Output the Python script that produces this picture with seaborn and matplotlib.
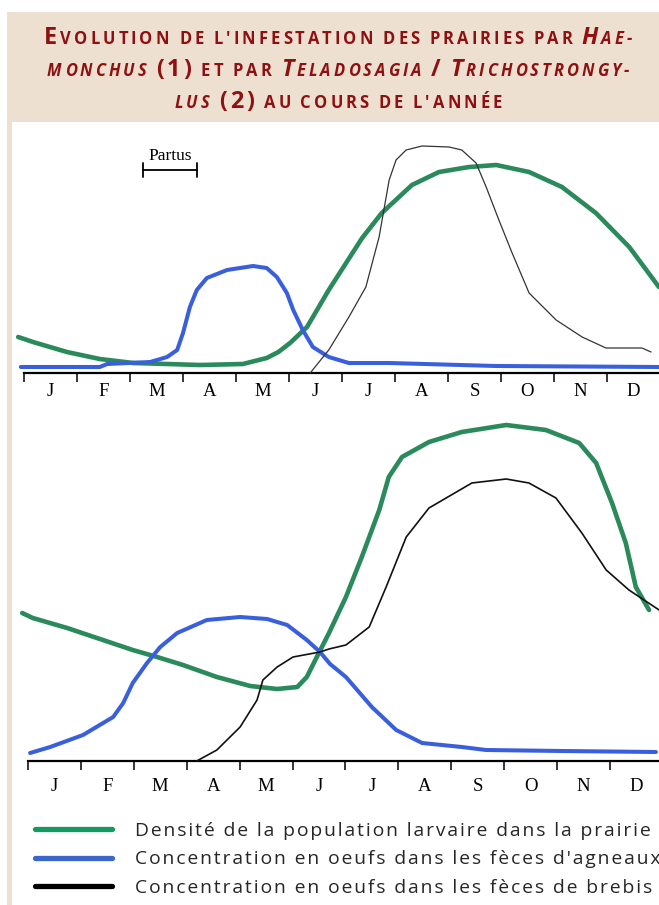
import matplotlib
matplotlib.use("Agg")
import matplotlib.pyplot as plt
import seaborn as sns
import numpy as np
import pandas as pd
from matplotlib.lines import Line2D
from matplotlib.patches import Rectangle
from matplotlib.offsetbox import TextArea, HPacker, AnchoredOffsetbox
from matplotlib.font_manager import FontProperties

# ---------------- data (months from 1 Jan = 0, arbitrary level units) ----------------
month_labels = ["J", "F", "M", "A", "M", "J", "J", "A", "S", "O", "N", "D"]

# Panel 1 : Haemonchus
p1_green_x = [-0.11, 0.17, 0.81, 1.43, 2.06, 2.70, 3.32, 4.13, 4.58, 4.80, 5.02, 5.34, 5.75,
              6.38, 6.75, 7.32, 7.83, 8.40, 8.91, 9.53, 10.15, 10.79, 11.42, 11.98]
p1_green_y = [36, 31, 21, 14, 10, 9, 8, 9, 15, 21, 30, 46, 83,
              135, 160, 188, 201, 206, 208, 201, 186, 160, 126, 86]

p1_blue_x = [-0.06, 1.43, 1.57, 2.38, 2.70, 2.89, 3.00, 3.13, 3.26, 3.45, 3.83, 4.32, 4.58,
             4.77, 4.96, 5.08, 5.26, 5.45, 5.75, 6.13, 6.89, 8.91, 11.98]
p1_blue_y = [6, 6, 9, 11, 16, 23, 40, 66, 83, 95, 103, 107, 105,
             96, 80, 63, 43, 26, 16, 10, 10, 7, 6]

p1_black_x = [5.40, 5.75, 6.13, 6.45, 6.70, 6.89, 7.02, 7.21, 7.51, 8.02, 8.26, 8.53, 8.72,
              8.96, 9.21, 9.53, 10.04, 10.53, 10.98, 11.66, 11.83]
p1_black_y = [0, 23, 56, 86, 136, 193, 213, 223, 227, 226, 223, 210, 186,
              153, 120, 80, 53, 36, 25, 25, 21]

# Panel 2 : Teladosagia / Trichostrongylus
p2_green_x = [-0.11, 0.09, 0.74, 1.36, 1.98, 2.44, 2.93, 3.57, 4.20, 4.71, 5.09, 5.27, 5.46,
              5.69, 6.01, 6.31, 6.64, 6.82, 7.07, 7.58, 8.20, 9.04, 9.79, 10.42, 10.74,
              11.04, 11.30, 11.49, 11.74]
p2_green_y = [148, 143, 133, 122, 111, 104, 96, 84, 75, 72, 74, 84, 104,
              128, 164, 204, 251, 284, 304, 319, 329, 336, 331, 318, 298,
              258, 218, 174, 151]

p2_blue_x = [0.04, 0.42, 1.04, 1.61, 1.80, 1.98, 2.25, 2.50, 2.82, 3.38, 4.01, 4.52, 4.90,
             5.27, 5.52, 5.71, 6.01, 6.50, 6.96, 7.45, 8.20, 8.66, 10.09, 11.87]
p2_blue_y = [8, 14, 26, 44, 58, 78, 98, 114, 128, 141, 144, 142, 136,
             121, 109, 97, 84, 54, 31, 18, 14, 11, 10, 9]

p2_black_x = [3.19, 3.57, 4.01, 4.33, 4.44, 4.71, 5.01, 5.52, 5.69, 6.01, 6.45, 6.77, 7.15,
              7.58, 8.39, 9.04, 9.47, 9.98, 10.47, 10.93, 11.36, 11.93]
p2_black_y = [0, 11, 34, 61, 81, 94, 104, 109, 112, 116, 134, 174, 224,
              253, 278, 282, 278, 263, 228, 191, 171, 151]

legend_labels = ["Densité de la population larvaire dans la prairie",
                 "Concentration en oeufs dans les fèces d'agneaux",
                 "Concentration en oeufs dans les fèces de brebis"]

# ---------------- style ----------------
sns.set_theme(style="white")
plt.rcParams["font.family"] = ["Open Sans", "DejaVu Sans"]

GREEN = "#2b8a5b"
BLUE = "#3a5fdc"
BLACK = "#111111"
LEG_GREEN = "#139a5f"
LEG_BLUE = "#3b66cb"
BEIGE = "#eee0d0"
RED = "#8e1010"

W, H = 659, 905
fig = plt.figure(figsize=(W / 100, H / 100), dpi=100)
fig.patch.set_facecolor("white")


def rect(x0, y0, x1, y1):
    return [x0 / W, 1 - y1 / H, (x1 - x0) / W, (y1 - y0) / H]


# left beige strip
fig.patches.append(Rectangle((7 / W, 0), 5 / W, 1 - 122 / H, transform=fig.transFigure,
                             facecolor=BEIGE, edgecolor="none", zorder=0))

# ---------------- title box ----------------
tax = fig.add_axes(rect(7, 12, 659, 122))
tax.set_facecolor(BEIGE)
tax.set_xticks([])
tax.set_yticks([])
for s in tax.spines.values():
    s.set_visible(False)

BIG, SMALL = 16.8, 11.9
TRACK, GAP = 2.2, 7.0


def word(parts):
    kids = []
    for text, size, italic in parts:
        for ch in text:
            kids.append(TextArea(ch, textprops=dict(fontsize=size, fontweight="bold",
                                                     fontstyle="italic" if italic else "normal",
                                                     color=RED,
                                                     family=["Open Sans", "DejaVu Sans"])))
    return HPacker(children=kids, sep=TRACK, pad=0, align="baseline")


title_lines = [
    [[("E", BIG, False), ("VOLUTION", SMALL, False)], [("DE", SMALL, False)],
     [("L'INFESTATION", SMALL, False)], [("DES", SMALL, False)], [("PRAIRIES", SMALL, False)],
     [("PAR", SMALL, False)], [("H", BIG, True), ("AE-", SMALL, True)]],
    [[("MONCHUS", SMALL, True)], [("(1)", BIG, False)], [("ET", SMALL, False)],
     [("PAR", SMALL, False)], [("T", BIG, True), ("ELADOSAGIA", SMALL, True)],
     [("/", BIG, False)], [("T", BIG, True), ("RICHOSTRONGY-", SMALL, True)]],
    [[("LUS", SMALL, True)], [("(2)", BIG, False)], [("AU", SMALL, False)],
     [("COURS", SMALL, False)], [("DE", SMALL, False)], [("L'ANNÉE", SMALL, False)]],
]
for ypix, line in zip([38, 70, 102], title_lines):
    box = HPacker(children=[word(w) for w in line], sep=GAP, pad=0, align="baseline")
    anc = AnchoredOffsetbox(loc="center", child=box, frameon=False, pad=0, borderpad=0,
                            bbox_to_anchor=(338 / W, 1 - ypix / H),
                            bbox_transform=fig.transFigure)
    tax.add_artist(anc)


# ---------------- panels ----------------
def setup_axis(ax, xmin, xmax, ymin, ymax, pad):
    ax.set_xlim(xmin, xmax)
    ax.set_ylim(ymin, ymax)
    ax.set_facecolor("none")
    for side in ["top", "right", "left"]:
        ax.spines[side].set_visible(False)
    sp = ax.spines["bottom"]
    sp.set_position(("data", 0))
    sp.set_bounds(0, xmax)
    sp.set_color("black")
    sp.set_linewidth(1.6)
    ax.set_yticks([])
    ax.set_xticks(np.arange(0, 12), labels=[])
    ax.set_xticks(np.arange(12) + 0.5, labels=month_labels, minor=True)
    ax.tick_params(axis="x", which="major", direction="out", length=6.5, width=1.1,
                   color="black", bottom=True)
    ax.tick_params(axis="x", which="minor", length=0, pad=pad, labelsize=13.5,
                   labelcolor="black", bottom=True)
    for lab in ax.get_xticklabels(minor=True):
        lab.set_family(["Liberation Serif", "DejaVu Serif"])
    ax.set_xlabel("")
    ax.set_ylabel("")


ax1 = fig.add_axes(rect(12, 123, 659, 405))
ax1.patch.set_alpha(0)
sns.lineplot(x=p1_green_x, y=p1_green_y, ax=ax1, color=GREEN, linewidth=3.3, zorder=2)
sns.lineplot(x=p1_blue_x, y=p1_blue_y, ax=ax1, color=BLUE, linewidth=2.9, zorder=3)
sns.lineplot(x=p1_black_x, y=p1_black_y, ax=ax1, color="#333333", linewidth=0.9, zorder=4)
setup_axis(ax1, (12 - 24) / 53, (659 - 24) / 53, -32, 250, pad=7.5)

ax1.text((170 - 24) / 53, 217, "Partus", ha="center", va="center", fontsize=12.5,
         family=["Liberation Serif", "DejaVu Serif"], color="black")
xa, xb = (143 - 24) / 53, (197 - 24) / 53
ax1.plot([xa, xb], [203, 203], color="black", lw=1.3)
ax1.plot([xa, xa], [196, 210], color="black", lw=1.3)
ax1.plot([xb, xb], [196, 210], color="black", lw=1.3)

ax2 = fig.add_axes(rect(12, 405, 659, 805))
ax2.patch.set_alpha(0)
sns.lineplot(x=p2_green_x, y=p2_green_y, ax=ax2, color=GREEN, linewidth=3.3, zorder=2)
sns.lineplot(x=p2_blue_x, y=p2_blue_y, ax=ax2, color=BLUE, linewidth=2.9, zorder=3)
sns.lineplot(x=p2_black_x, y=p2_black_y, ax=ax2, color=BLACK, linewidth=1.2, zorder=4)
setup_axis(ax2, (12 - 28) / 52.9, (659 - 28) / 52.9, -44, 356, pad=12.5)

# ---------------- legend ----------------
HAIR = "\u200a"


def tracked(s):
    return HAIR.join(list(s))


handles = [Line2D([], [], color=LEG_GREEN, lw=3.8),
           Line2D([], [], color=LEG_BLUE, lw=3.8),
           Line2D([], [], color="black", lw=3.8)]
fig.legend(handles, [tracked(s) for s in legend_labels], loc="upper left",
           bbox_to_anchor=(35 / W, 1 - 822 / H),
           frameon=False, borderaxespad=0, borderpad=0, handlelength=4.0,
           handletextpad=1.18, labelspacing=0.54,
           prop=FontProperties(family=["Open Sans", "DejaVu Sans"], size=13.9))

fig.savefig("out.png", dpi=100)
